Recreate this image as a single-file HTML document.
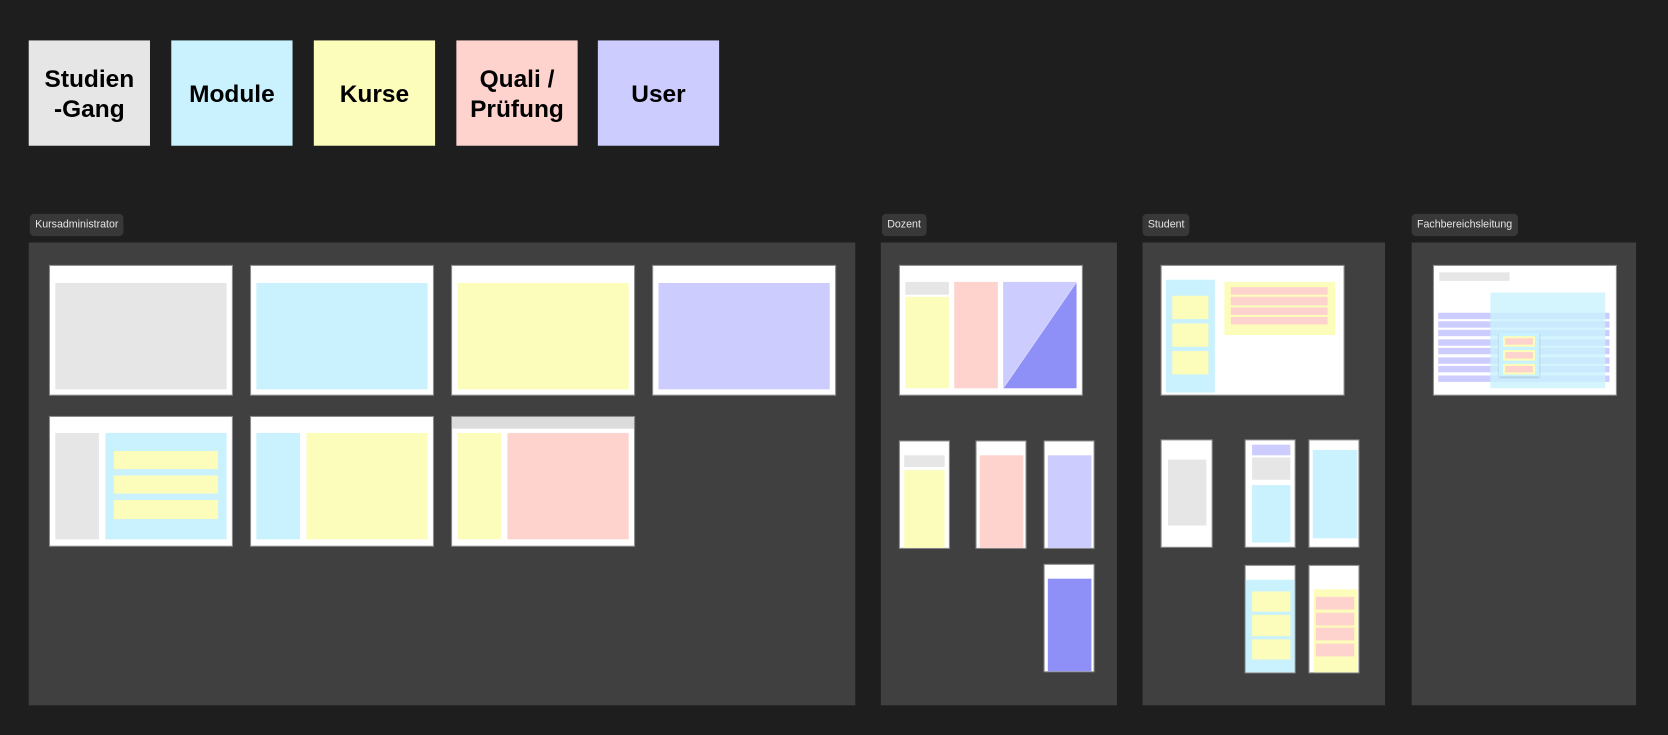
<!DOCTYPE html>
<html><head><meta charset="utf-8"><style>
html,body{margin:0;padding:0;background:#1e1e1e;width:1668px;height:735px;overflow:hidden}
#stage{position:absolute;left:0;top:0;width:1568px;height:691px;transform:scale(1.06378);transform-origin:0 0;font-family:"Liberation Sans",sans-serif}
#stage div{position:absolute;box-sizing:border-box}
.note{display:flex;align-items:center;justify-content:center;text-align:center;font-weight:bold;font-size:23px;line-height:28px;color:#000;top:38px;width:114px;height:99px}
.lbl{background:#383838;color:#e6e6e6;font-size:10px;line-height:21px;height:21px;top:201px;padding:0 5px;border-radius:4px}
.panel{background:#404040;top:228px;height:435px}
.fr{background:#fff;box-shadow:0 0 0 1px #8a8a8a}
.g{background:#e6e6e6}.c{background:#c9f1fe}.y{background:#fcfdba}.p{background:#fed3ce}.u{background:#ccccfe}.d{background:#8f8ff8}
</style></head><body>
<div id="stage">
<div class="note g" style="left:27px">Studien<br>-Gang</div>
<div class="note c" style="left:161px">Module</div>
<div class="note y" style="left:295px">Kurse</div>
<div class="note p" style="left:429px">Quali /<br>Prüfung</div>
<div class="note u" style="left:562px">User</div>

<div class="lbl" style="left:28px">Kursadministrator</div>
<div class="lbl" style="left:829px">Dozent</div>
<div class="lbl" style="left:1074px">Student</div>
<div class="lbl" style="left:1327px">Fachbereichsleitung</div>

<div class="panel" style="left:27px;width:777px"></div>
<div class="panel" style="left:828px;width:222px"></div>
<div class="panel" style="left:1074px;width:228px"></div>
<div class="panel" style="left:1327px;width:211px"></div>

<!-- Kursadministrator frames -->
<div class="fr" style="left:47px;top:250px;width:171px;height:121px"></div>
<div class="g" style="left:52px;top:266px;width:161px;height:100px"></div>
<div class="fr" style="left:236px;top:250px;width:171px;height:121px"></div>
<div class="c" style="left:241px;top:266px;width:161px;height:100px"></div>
<div class="fr" style="left:425px;top:250px;width:171px;height:121px"></div>
<div class="y" style="left:430px;top:266px;width:161px;height:100px"></div>
<div class="fr" style="left:614px;top:250px;width:171px;height:121px"></div>
<div class="u" style="left:619px;top:266px;width:161px;height:100px"></div>

<div class="fr" style="left:47px;top:392px;width:171px;height:121px"></div>
<div class="g" style="left:52px;top:407px;width:41px;height:100px"></div>
<div class="c" style="left:99px;top:407px;width:114px;height:100px"></div>
<div class="y" style="left:107px;top:424px;width:98px;height:17px"></div>
<div class="y" style="left:107px;top:447px;width:98px;height:17px"></div>
<div class="y" style="left:107px;top:470px;width:98px;height:18px"></div>

<div class="fr" style="left:236px;top:392px;width:171px;height:121px"></div>
<div class="c" style="left:241px;top:407px;width:41px;height:100px"></div>
<div class="y" style="left:288px;top:407px;width:114px;height:100px"></div>

<div class="fr" style="left:425px;top:392px;width:171px;height:121px"></div>
<div style="left:425px;top:392px;width:171px;height:11px;background:#dcdcdc"></div>
<div class="y" style="left:430px;top:407px;width:41px;height:100px"></div>
<div class="p" style="left:477px;top:407px;width:114px;height:100px"></div>

<!-- Dozent -->
<div class="fr" style="left:846px;top:250px;width:171px;height:121px"></div>
<div class="g" style="left:851px;top:265px;width:41px;height:12px"></div>
<div class="y" style="left:851px;top:279px;width:41px;height:86px"></div>
<div class="p" style="left:897px;top:265px;width:41px;height:100px"></div>
<div class="u" style="left:943px;top:265px;width:69px;height:100px;background:linear-gradient(to bottom right,#ccccfe 49.6%,#e8e8ff 50%,#8f8ff8 50.6%)"></div>

<div class="fr" style="left:846px;top:415px;width:46px;height:100px"></div>
<div class="g" style="left:850px;top:428px;width:38px;height:11px"></div>
<div class="y" style="left:850px;top:442px;width:38px;height:73px"></div>
<div class="fr" style="left:918px;top:415px;width:46px;height:100px"></div>
<div class="p" style="left:921px;top:428px;width:41px;height:87px"></div>
<div class="fr" style="left:982px;top:415px;width:46px;height:100px"></div>
<div class="u" style="left:985px;top:428px;width:41px;height:87px"></div>
<div class="fr" style="left:982px;top:531px;width:46px;height:100px"></div>
<div class="d" style="left:985px;top:544px;width:41px;height:87px"></div>

<!-- Student -->
<div class="fr" style="left:1092px;top:250px;width:171px;height:121px"></div>
<div class="c" style="left:1096px;top:263px;width:46px;height:106px"></div>
<div class="y" style="left:1102px;top:278px;width:34px;height:22px"></div>
<div class="y" style="left:1102px;top:304px;width:34px;height:22px"></div>
<div class="y" style="left:1102px;top:330px;width:34px;height:22px"></div>
<div class="y" style="left:1151px;top:265px;width:104px;height:50px"></div>
<div class="p" style="left:1157px;top:270px;width:91px;height:7px"></div>
<div class="p" style="left:1157px;top:279px;width:91px;height:8px"></div>
<div class="p" style="left:1157px;top:289px;width:91px;height:7px"></div>
<div class="p" style="left:1157px;top:298px;width:91px;height:7px"></div>

<div class="fr" style="left:1092px;top:414px;width:47px;height:100px"></div>
<div class="g" style="left:1098px;top:432px;width:36px;height:62px"></div>
<div class="fr" style="left:1171px;top:414px;width:46px;height:100px"></div>
<div class="u" style="left:1177px;top:418px;width:36px;height:10px"></div>
<div class="g" style="left:1177px;top:430px;width:36px;height:21px"></div>
<div class="c" style="left:1177px;top:456px;width:36px;height:54px"></div>
<div class="fr" style="left:1231px;top:414px;width:46px;height:100px"></div>
<div class="c" style="left:1234px;top:423px;width:42px;height:83px"></div>

<div class="fr" style="left:1171px;top:532px;width:46px;height:100px"></div>
<div class="c" style="left:1171px;top:545px;width:46px;height:87px"></div>
<div class="y" style="left:1177px;top:556px;width:36px;height:19px"></div>
<div class="y" style="left:1177px;top:578px;width:36px;height:20px"></div>
<div class="y" style="left:1177px;top:601px;width:36px;height:19px"></div>
<div class="fr" style="left:1231px;top:532px;width:46px;height:100px"></div>
<div class="y" style="left:1235px;top:554px;width:41px;height:78px"></div>
<div class="p" style="left:1237px;top:561px;width:36px;height:12px"></div>
<div class="p" style="left:1237px;top:576px;width:36px;height:12px"></div>
<div class="p" style="left:1237px;top:590px;width:36px;height:12px"></div>
<div class="p" style="left:1237px;top:605px;width:36px;height:12px"></div>

<!-- Fachbereichsleitung -->
<div class="fr" style="left:1348px;top:250px;width:171px;height:121px"></div>
<div class="g" style="left:1353px;top:256px;width:66px;height:8px"></div>
<div class="u" style="left:1352px;top:294px;width:161px;height:6px"></div>
<div class="u" style="left:1352px;top:302px;width:161px;height:6px"></div>
<div class="u" style="left:1352px;top:310px;width:161px;height:6px"></div>
<div class="u" style="left:1352px;top:319px;width:161px;height:6px"></div>
<div class="u" style="left:1352px;top:327px;width:161px;height:6px"></div>
<div class="u" style="left:1352px;top:336px;width:161px;height:6px"></div>
<div class="u" style="left:1352px;top:344px;width:161px;height:6px"></div>
<div class="u" style="left:1352px;top:353px;width:161px;height:6px"></div>
<div style="left:1401px;top:275px;width:108px;height:90px;background:rgba(201,241,254,0.8)"></div>
<div style="left:1409px;top:313px;width:38px;height:41px;background:#c9f1fe;box-shadow:0 1px 2px rgba(0,0,0,0.25)"></div>
<div class="y" style="left:1413px;top:316px;width:30px;height:10px;padding:2px 2px"></div>
<div class="p" style="left:1415px;top:318px;width:26px;height:6px"></div>
<div class="y" style="left:1413px;top:329px;width:30px;height:10px"></div>
<div class="p" style="left:1415px;top:331px;width:26px;height:6px"></div>
<div class="y" style="left:1413px;top:342px;width:30px;height:10px"></div>
<div class="p" style="left:1415px;top:344px;width:26px;height:6px"></div>
</div>
</body></html>
